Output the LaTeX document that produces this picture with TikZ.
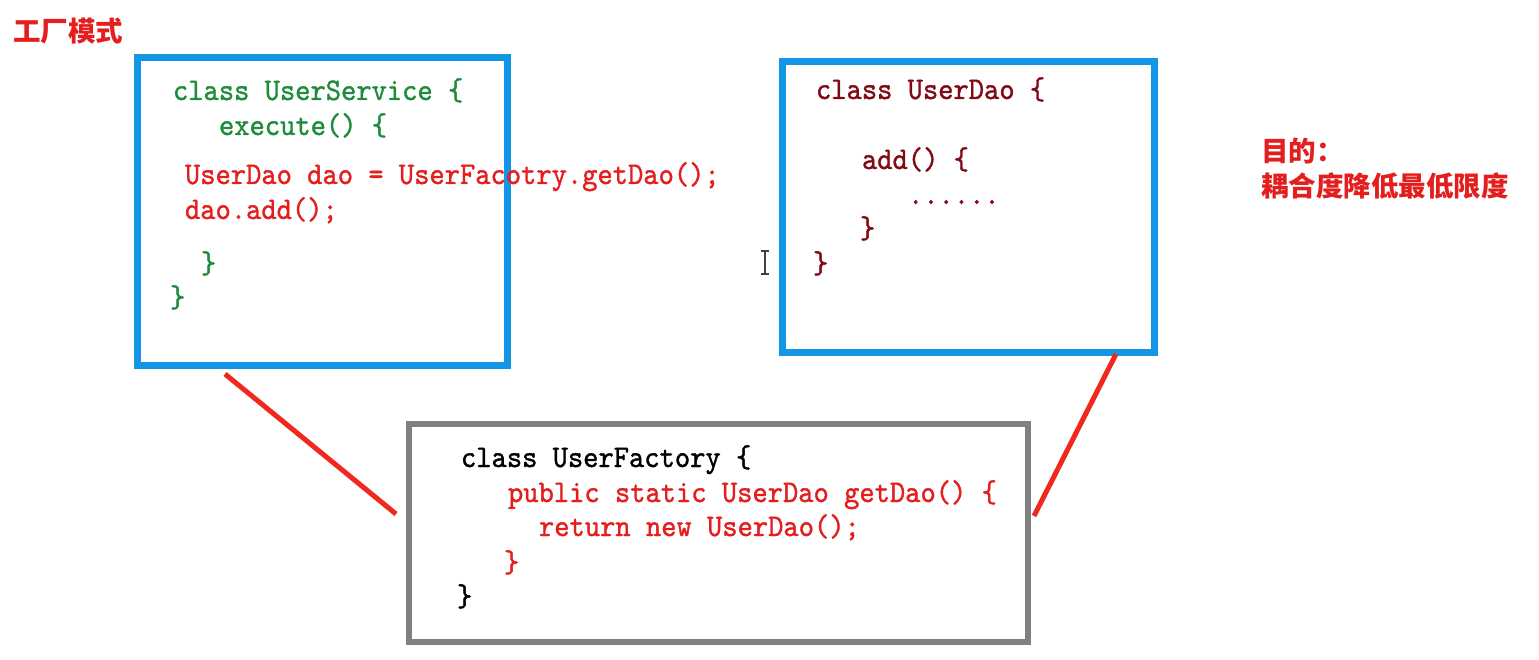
\documentclass[tikz,border=0pt]{standalone}
\usepackage{fontspec}
\usepackage{graphicx}
\usetikzlibrary{calc}
\newfontfamily\cjk{Noto Sans CJK SC}
\newfontfamily\lmm{lmmono10-regular}[Extension=.otf, FakeBold=1.2]
\definecolor{boxblue}{RGB}{20,150,230}
\definecolor{boxgray}{RGB}{128,128,128}
\definecolor{codegreen}{RGB}{30,140,60}
\definecolor{codered}{RGB}{228,30,30}
\definecolor{codedark}{RGB}{130,10,20}
\definecolor{linkred}{RGB}{240,40,30}
\newcommand{\cd}[1]{\scalebox{1}[1.08]{\lmm\bfseries\fontsize{29.1}{30}\selectfont #1}}
\tikzset{
  codeline/.style={anchor=base west, inner sep=0pt, outer sep=0pt},
  cnlabel/.style={anchor=base west, inner sep=0pt, text=codered, font=\cjk\bfseries\fontsize{27.5}{29}\selectfont},
  classbox/.style={draw=boxblue, line width=7pt, inner sep=0pt},
  factbox/.style={draw=boxgray, line width=6pt, inner sep=0pt},
  link/.style={draw=linkred, line width=5pt}
}
\begin{document}
\begin{tikzpicture}[x=1pt,y=-1pt]
\fill[white] (0,0) rectangle (1539,660);
\useasboundingbox (0,0) rectangle (1539,660);
% boxes
\node[classbox, minimum width=370pt, minimum height=307pt] (svc) at (322,211.5) {};
\node[classbox, minimum width=372pt, minimum height=291pt] (dao) at (968.5,207) {};
\node[factbox, minimum width=619pt, minimum height=218pt] (fac) at (718.5,533) {};
% title texts
\node[cnlabel] (title) at (13,42) {工厂模式};
\node[cnlabel] (goal) at (1261,162) {目的：};
\node[cnlabel] (goal2) at (1261,197) {耦合度降低最低限度};
% UserService
\node[codeline, text=codegreen] (s1) at (173,100) {\cd{class UserService \{}};
\node[codeline, text=codegreen] (s2) at (219,135) {\cd{execute() \{}};
\node[codeline, text=codered] (s3) at (185,184) {\cd{UserDao dao = UserFacotry.getDao();}};
\node[codeline, text=codered] (s4) at (185,219) {\cd{dao.add();}};
\node[codeline, text=codegreen] (s5) at (201,273) {\cd{\}}};
\node[codeline, text=codegreen] (s6) at (170,307) {\cd{\}}};
% UserDao
\node[codeline, text=codedark] (d1) at (816,99) {\cd{class UserDao \{}};
\node[codeline, text=codedark] (d2) at (862,169) {\cd{add() \{}};
\node[codeline, text=codedark] (d3) at (908,204) {\cd{......}};
\node[codeline, text=codedark] (d4) at (860,238) {\cd{\}}};
\node[codeline, text=codedark] (d5) at (813,273) {\cd{\}}};
% UserFactory
\node[codeline, text=black] (f1) at (461,467) {\cd{class UserFactory \{}};
\node[codeline, text=codered] (f2) at (508,502) {\cd{public static UserDao getDao() \{}};
\node[codeline, text=codered] (f3) at (539,536) {\cd{return new UserDao();}};
\node[codeline, text=codered] (f4) at (504,572) {\cd{\}}};
\node[codeline, text=black] (f5) at (457,606) {\cd{\}}};
% connectors
\coordinate (l1a) at (225,374);
\coordinate (l1b) at (396,514);
\coordinate (l2a) at (1116,354);
\coordinate (l2b) at (1034,516);
\draw[link] (l1a) -- (l1b);
\draw[link] (l2a) -- (l2b);
% text cursor
\coordinate (ca) at (765,251);
\coordinate (cb) at (765,274);
\draw[black!75, line width=1.5pt] (ca) -- (cb);
\draw[black!75, line width=1.2pt] ($(ca)+(-4,0)$) -- ($(ca)+(4,0)$);
\draw[black!75, line width=1.2pt] ($(cb)+(-4,0)$) -- ($(cb)+(4,0)$);
\end{tikzpicture}
\end{document}
